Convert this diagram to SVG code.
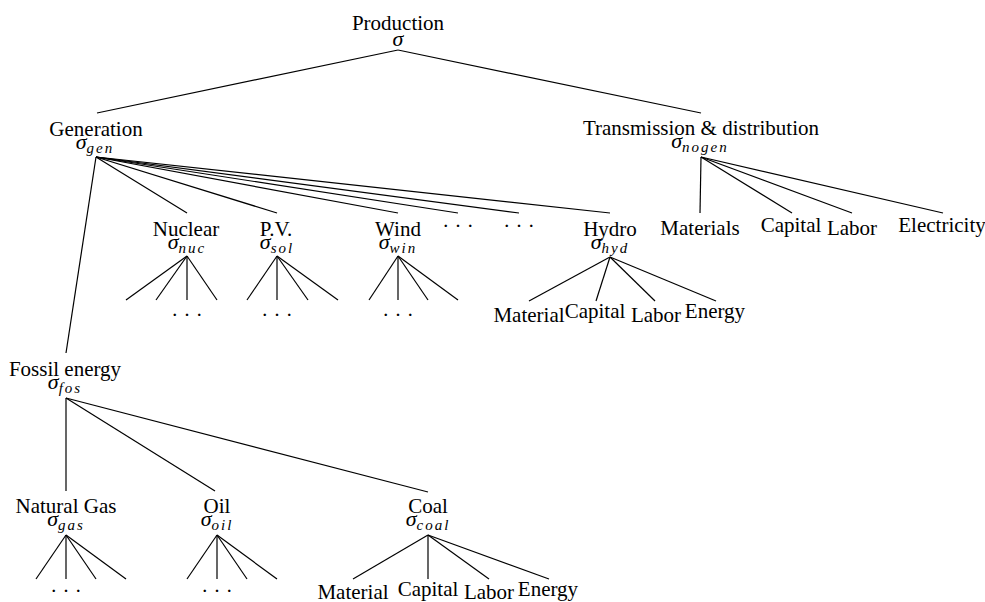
<svg xmlns="http://www.w3.org/2000/svg" width="985" height="602" viewBox="0 0 985 602">
<style>
.l{font-family:"Liberation Serif","Times New Roman",serif;font-size:21px;fill:#000;text-anchor:middle}
.s{font-family:"Liberation Serif","Times New Roman",serif;font-style:italic;font-size:22px;fill:#000;text-anchor:middle}
.sub{font-size:15px;letter-spacing:2px}
.d{font-family:"Liberation Serif","Times New Roman",serif;font-size:21px;fill:#000;text-anchor:middle}
.e line{stroke:#000;stroke-width:1.2}
</style>
<rect width="985" height="602" fill="#fff"/>
<g id="connectors" class="e">
<line x1="398" y1="50" x2="97" y2="113"/>
<line x1="398" y1="50" x2="701" y2="113"/>
<line x1="96" y1="157" x2="187" y2="213"/>
<line x1="96" y1="157" x2="277" y2="213"/>
<line x1="96" y1="157" x2="398" y2="213"/>
<line x1="96" y1="157" x2="458" y2="213"/>
<line x1="96" y1="157" x2="519" y2="213"/>
<line x1="96" y1="157" x2="610" y2="213"/>
<line x1="96" y1="157" x2="66" y2="353"/>
<line x1="701" y1="157" x2="700" y2="213"/>
<line x1="701" y1="157" x2="792" y2="213"/>
<line x1="701" y1="157" x2="852" y2="213"/>
<line x1="701" y1="157" x2="943" y2="213"/>
<line x1="187" y1="256" x2="126" y2="300"/>
<line x1="187" y1="256" x2="156" y2="300"/>
<line x1="187" y1="256" x2="187" y2="300"/>
<line x1="187" y1="256" x2="217" y2="300"/>
<line x1="277" y1="256" x2="247" y2="300"/>
<line x1="277" y1="256" x2="277" y2="300"/>
<line x1="277" y1="256" x2="308" y2="300"/>
<line x1="277" y1="256" x2="338" y2="300"/>
<line x1="398" y1="256" x2="369" y2="300"/>
<line x1="398" y1="256" x2="398" y2="300"/>
<line x1="398" y1="256" x2="428" y2="300"/>
<line x1="398" y1="256" x2="458" y2="300"/>
<line x1="610" y1="257" x2="529" y2="301"/>
<line x1="610" y1="257" x2="596" y2="301"/>
<line x1="610" y1="257" x2="655" y2="301"/>
<line x1="610" y1="257" x2="716" y2="301"/>
<line x1="66" y1="398" x2="66" y2="491"/>
<line x1="66" y1="398" x2="215" y2="491"/>
<line x1="66" y1="398" x2="428" y2="492"/>
<line x1="66" y1="535" x2="36" y2="579"/>
<line x1="66" y1="535" x2="66" y2="579"/>
<line x1="66" y1="535" x2="96" y2="579"/>
<line x1="66" y1="535" x2="126" y2="579"/>
<line x1="217" y1="535" x2="187" y2="579"/>
<line x1="217" y1="535" x2="217" y2="579"/>
<line x1="217" y1="535" x2="247" y2="579"/>
<line x1="217" y1="535" x2="277" y2="579"/>
<line x1="428" y1="535" x2="353" y2="579"/>
<line x1="428" y1="535" x2="428" y2="579"/>
<line x1="428" y1="535" x2="489" y2="579"/>
<line x1="428" y1="535" x2="549" y2="579"/>
</g>
<g id="production"><text class="l" x="398" y="30">Production</text><text class="s" x="398" y="46">σ</text></g>
<g id="generation"><text class="l" x="96" y="136">Generation</text><text class="s" x="95" y="149">σ<tspan class="sub" dy="4">gen</tspan></text></g>
<g id="transmission"><text class="l" x="701" y="135">Transmission &amp; distribution</text><text class="s" x="700" y="148">σ<tspan class="sub" dy="4">nogen</tspan></text></g>
<g id="nuclear"><text class="l" x="186" y="236">Nuclear</text><text class="s" x="187" y="249">σ<tspan class="sub" dy="4">nuc</tspan></text><text class="d" x="187" y="322">· · ·</text></g>
<g id="pv"><text class="l" x="276" y="236">P.V.</text><text class="s" x="277" y="249">σ<tspan class="sub" dy="4">sol</tspan></text><text class="d" x="277" y="322">· · ·</text></g>
<g id="wind"><text class="l" x="398" y="236">Wind</text><text class="s" x="398" y="249">σ<tspan class="sub" dy="4">win</tspan></text><text class="d" x="398" y="322">· · ·</text></g>
<g id="dots1"><text class="d" x="458" y="233">· · ·</text></g>
<g id="dots2"><text class="d" x="519" y="233">· · ·</text></g>
<g id="hydro"><text class="l" x="610" y="236">Hydro</text><text class="s" x="610" y="249">σ<tspan class="sub" dy="4">hyd</tspan></text></g>
<g id="hyd-material"><text class="l" x="529" y="322">Material</text></g>
<g id="hyd-capital"><text class="l" x="595" y="318">Capital</text></g>
<g id="hyd-labor"><text class="l" x="656" y="322">Labor</text></g>
<g id="hyd-energy"><text class="l" x="715" y="318">Energy</text></g>
<g id="td-materials"><text class="l" x="700" y="235">Materials</text></g>
<g id="td-capital"><text class="l" x="791" y="232">Capital</text></g>
<g id="td-labor"><text class="l" x="852" y="235">Labor</text></g>
<g id="td-electricity"><text class="l" x="942" y="232">Electricity</text></g>
<g id="fossil"><text class="l" x="65" y="376">Fossil energy</text><text class="s" x="65" y="389">σ<tspan class="sub" dy="4">fos</tspan></text></g>
<g id="gas"><text class="l" x="66" y="513">Natural Gas</text><text class="s" x="66" y="526">σ<tspan class="sub" dy="4">gas</tspan></text><text class="d" x="66" y="598">· · ·</text></g>
<g id="oil"><text class="l" x="217" y="513">Oil</text><text class="s" x="217" y="526">σ<tspan class="sub" dy="4">oil</tspan></text><text class="d" x="217" y="598">· · ·</text></g>
<g id="coal"><text class="l" x="428" y="513">Coal</text><text class="s" x="428" y="526">σ<tspan class="sub" dy="4">coal</tspan></text></g>
<g id="coal-material"><text class="l" x="353" y="599">Material</text></g>
<g id="coal-capital"><text class="l" x="428" y="596">Capital</text></g>
<g id="coal-labor"><text class="l" x="489" y="599">Labor</text></g>
<g id="coal-energy"><text class="l" x="548" y="596">Energy</text></g>
</svg>
